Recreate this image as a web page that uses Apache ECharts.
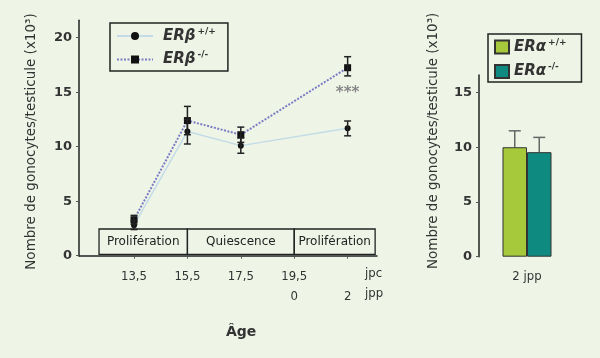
<!DOCTYPE html>
<html><head><meta charset="utf-8">
<script src="https://cdn.jsdelivr.net/npm/echarts@6/dist/echarts.min.js"></script>
<style>html,body{margin:0;padding:0;background:#eef5e7}#c{width:600px;height:358px}</style>
</head><body><div id="c"></div>
<script>
// ---- data ----
const ageValues = [13.5, 15.5, 17.5, 21.5];          // x positions (21.5 = 2 jpp)
const tickValues = [13.5, 15.5, 17.5, 19.5, 21.5];
const tickLabelsJpc = ['13,5', '15,5', '17,5', '19,5', ''];
const tickLabelsJpp = ['', '', '', '0', '2'];
const wtValues = [2.8, 11.4, 10.1, 11.7];             // ERβ +/+
const wtLow = [2.4, 10.25, 9.4, 11.0];
const wtHigh = [3.2, 12.5, 10.8, 12.36];
const koValues = [3.3, 12.4, 11.1, 17.25];            // ERβ -/-
const koLow = [2.9, 11.1, 10.4, 16.5];
const koHigh = [3.7, 13.7, 11.8, 18.26];
const phaseLabels = ['Prolifération', 'Quiescence', 'Prolifération'];
const phaseBounds = [12.19, 15.5, 19.5, 22.53];
const phaseY = [0.13, 2.45];
const starsPos = [21.5, 14.9];
const barCategories = ['2 jpp'];
const alphaValues = [10.0, 9.55];                      // ERα +/+, ERα -/-
const alphaErrTop = [11.5, 10.9];
const yName = 'Nombre de gonocytes/testicule (x10³)';

const FONT = "'DejaVu Sans',sans-serif";
const NARROW = "'DejaVu Sans Condensed','DejaVu Sans',sans-serif";
const chart = echarts.init(document.getElementById('c'));

function makeRich(gap) {
  return {
    b: {fontFamily: FONT, fontStyle: 'italic', fontWeight: 'bold', fontSize: 15, color: '#333', padding: [0, 0, 0, gap]},
    s: {fontFamily: FONT, fontSize: 9, fontWeight: 'bold', color: '#333', padding: [0, 0, 9, 2]}
  };
}
function legendFmt(name) {
  const i = name.indexOf(' ');
  return '{b|' + name.slice(0, i) + '}{s|' + name.slice(i + 1) + '}';
}

function errRender(capHalf, color) {
  return function (params, api) {
    const x = api.value(0);
    const lo = api.coord([x, api.value(1)]);
    const hi = api.coord([x, api.value(2)]);
    const st = {stroke: color, lineWidth: 1.5};
    return {type: 'group', children: [
      {type: 'line', shape: {x1: lo[0], y1: lo[1], x2: hi[0], y2: hi[1]}, style: st},
      {type: 'line', shape: {x1: lo[0] - capHalf, y1: lo[1], x2: lo[0] + capHalf, y2: lo[1]}, style: st},
      {type: 'line', shape: {x1: hi[0] - capHalf, y1: hi[1], x2: hi[0] + capHalf, y2: hi[1]}, style: st}
    ]};
  };
}

const BAR_W = 24.5;
function barErrRender(params, api) {
  const side = api.value(3);
  const base = api.coord([api.value(0), api.value(1)]);
  const top = api.coord([api.value(0), api.value(2)]);
  const x = base[0] + side * BAR_W / 2;
  const st = {stroke: '#666', lineWidth: 1.5};
  return {type: 'group', children: [
    {type: 'line', shape: {x1: x, y1: base[1], x2: x, y2: top[1]}, style: st},
    {type: 'line', shape: {x1: x - 6, y1: top[1], x2: x + 6, y2: top[1]}, style: st}
  ]};
}

const markAreaData = phaseLabels.map((n, i) => [
  {name: n, xAxis: phaseBounds[i], yAxis: phaseY[0]},
  {xAxis: phaseBounds[i + 1], yAxis: phaseY[1]}
]);

const option = {
  backgroundColor: '#eef5e7',
  animation: false,
  textStyle: {fontFamily: FONT},
  grid: [
    {left: 79, top: 20.3, width: 298, height: 235.4},
    {left: 479, top: 75, width: 96, height: 181.7}
  ],
  legend: [
    {
      data: ['ERβ +/+', 'ERβ -/-'], orient: 'vertical', left: 110, top: 23,
      itemWidth: 36, itemHeight: 10, itemGap: 7,
      borderColor: '#222', borderWidth: 1.5, padding: [4, 12, 4, 6],
      formatter: legendFmt, textStyle: {rich: makeRich(5)}
    },
    {
      data: ['ERα +/+', 'ERα -/-'], orient: 'vertical', left: 488, top: 34,
      icon: 'rect', itemWidth: 14, itemHeight: 13, itemGap: 8,
      borderColor: '#222', borderWidth: 1.5, padding: [4, 15, 3, 6],
      formatter: legendFmt, textStyle: {rich: makeRich(0)}
    }
  ],
  xAxis: [
    {
      type: 'value', gridIndex: 0, min: 11.44, max: 22.6,
      splitLine: {show: false},
      axisLine: {lineStyle: {color: '#222', width: 1.5}},
      axisTick: {customValues: tickValues, length: 3, lineStyle: {color: '#555'}},
      axisLabel: {
        customValues: tickValues, margin: 11, color: '#333', fontSize: 13, lineHeight: 20,
        fontFamily: NARROW,
        formatter: function (v) {
          const i = tickValues.indexOf(v);
          if (i < 0) return '';
          return tickLabelsJpc[i] + '\n' + tickLabelsJpp[i];
        }
      }
    },
    {
      type: 'category', gridIndex: 1, data: barCategories,
      axisLine: {show: false}, axisTick: {show: false},
      axisLabel: {color: '#333', fontSize: 13, margin: 13, fontFamily: NARROW}
    }
  ],
  yAxis: [
    {
      type: 'value', gridIndex: 0, min: 0, max: 21.6, interval: 5,
      splitLine: {show: false},
      axisLine: {show: true, lineStyle: {color: '#222', width: 1.5}},
      axisTick: {show: true, length: 3, lineStyle: {color: '#555'}},
      axisLabel: {showMaxLabel: false, fontWeight: 'bold', fontSize: 13, color: '#333', margin: 7},
      name: yName, nameLocation: 'middle', nameGap: 41, nameRotate: 90,
      nameTextStyle: {fontSize: 13.5, color: '#333', padding: [0, 7, 0, 0]}
    },
    {
      type: 'value', gridIndex: 1, min: 0, max: 16.6, interval: 5,
      splitLine: {show: false},
      axisLine: {show: true, lineStyle: {color: '#222', width: 1.5}},
      axisTick: {show: true, length: 3, lineStyle: {color: '#555'}},
      axisLabel: {showMaxLabel: false, fontWeight: 'bold', fontSize: 13, color: '#333', margin: 7},
      name: yName, nameLocation: 'middle', nameGap: 39, nameRotate: 90,
      nameTextStyle: {fontSize: 13.5, color: '#333', padding: [0, 0, 0, 50]}
    }
  ],
  series: [
    {
      name: 'phases', type: 'line', xAxisIndex: 0, yAxisIndex: 0, data: [], silent: true,
      markArea: {
        silent: true,
        itemStyle: {color: 'rgba(255,255,255,0)', borderColor: '#222', borderWidth: 1.3},
        label: {position: 'inside', color: '#222', fontSize: 12, fontFamily: FONT},
        data: markAreaData
      }
    },
    {
      name: 'ERβ +/+', type: 'line', xAxisIndex: 0, yAxisIndex: 0,
      data: ageValues.map((x, i) => [x, wtValues[i]]),
      symbol: 'circle', symbolSize: 6, z: 3,
      lineStyle: {color: '#c3dbe7', width: 1.5},
      itemStyle: {color: '#111'}
    },
    {
      name: 'ERβ -/-', type: 'line', xAxisIndex: 0, yAxisIndex: 0,
      data: ageValues.map((x, i) => [x, koValues[i]]),
      symbol: 'rect', symbolSize: 7, z: 4,
      lineStyle: {color: '#7c7cc4', width: 2, type: [2, 1.5]},
      itemStyle: {color: '#111'},
      markPoint: {
        symbol: 'circle', symbolSize: 0,
        label: {show: true, formatter: '***', color: '#888', fontSize: 15, fontWeight: 'bold', position: 'inside'},
        data: [{coord: starsPos}]
      }
    },
    {
      type: 'custom', xAxisIndex: 0, yAxisIndex: 0, z: 5,
      renderItem: errRender(3.5, '#222'),
      data: ageValues.map((x, i) => [x, wtLow[i], wtHigh[i]])
    },
    {
      type: 'custom', xAxisIndex: 0, yAxisIndex: 0, z: 5,
      renderItem: errRender(3.5, '#222'),
      data: ageValues.map((x, i) => [x, koLow[i], koHigh[i]])
    },
    {
      name: 'ERα +/+', type: 'bar', xAxisIndex: 1, yAxisIndex: 1,
      data: [alphaValues[0]], barWidth: BAR_W, barGap: '0%',
      itemStyle: {color: '#a6c93b', borderColor: '#333', borderWidth: 1}
    },
    {
      name: 'ERα -/-', type: 'bar', xAxisIndex: 1, yAxisIndex: 1,
      data: [alphaValues[1]], barWidth: BAR_W, barGap: '0%',
      itemStyle: {color: '#0f8a80', borderColor: '#333', borderWidth: 1}
    },
    {
      type: 'custom', xAxisIndex: 1, yAxisIndex: 1, z: 1,
      renderItem: barErrRender,
      data: [[0, alphaValues[0], alphaErrTop[0], -1], [0, alphaValues[1], alphaErrTop[1], 1]]
    }
  ],
  graphic: [
    {type: 'text', left: 365, top: 267, style: {text: 'jpc', fontSize: 13, fill: '#333', fontFamily: NARROW}},
    {type: 'text', left: 365, top: 287, style: {text: 'jpp', fontSize: 13, fill: '#333', fontFamily: NARROW}},
    {type: 'text', left: 226, top: 325, style: {text: 'Âge', fontSize: 14, fontWeight: 'bold', fill: '#333', fontFamily: FONT}}
  ]
};
chart.setOption(option);
</script>
</body></html>
